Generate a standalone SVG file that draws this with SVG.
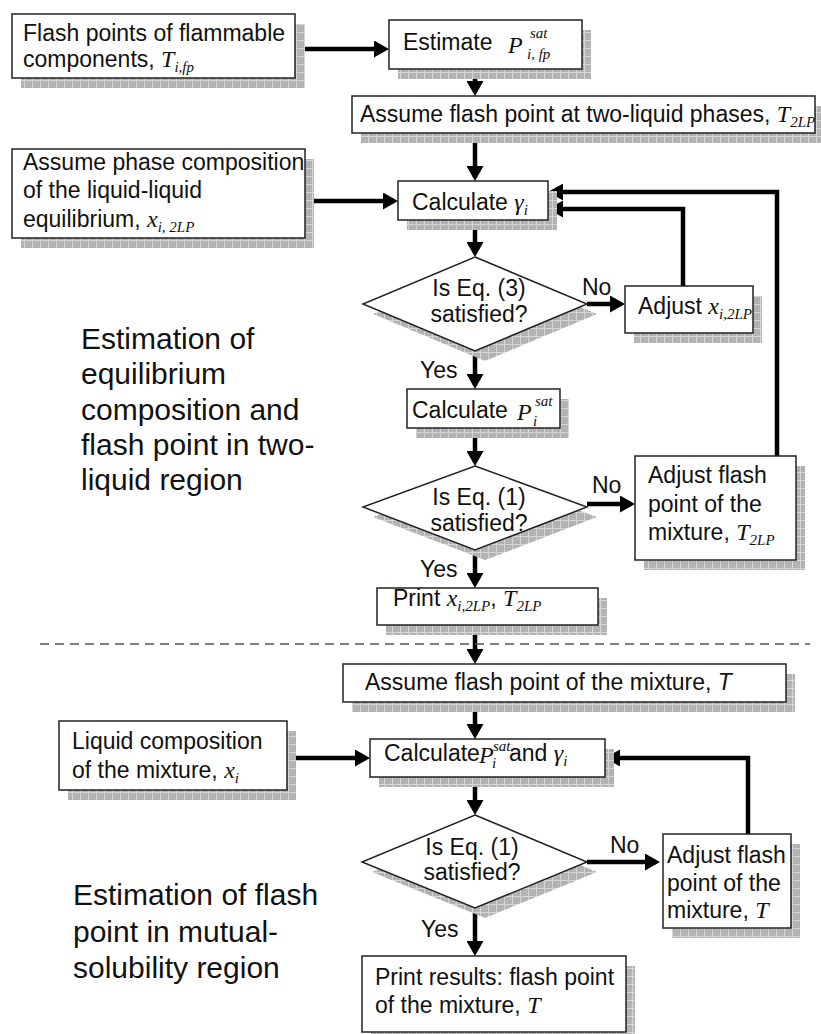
<svg xmlns="http://www.w3.org/2000/svg" width="821" height="1034" viewBox="0 0 821 1034">
<defs>
<pattern id="hatch" width="8" height="8" patternUnits="userSpaceOnUse">
<rect width="8" height="8" fill="#b3b3b3"/>
<path d="M0 0.5H8M0.5 0V8" stroke="#d6d6d6" stroke-width="1"/>
</pattern>
<marker id="ah" markerUnits="userSpaceOnUse" markerWidth="15" markerHeight="17" refX="11" refY="8.5" orient="auto">
<path d="M0,0 L15,8.5 L0,17 z" fill="#000"/>
</marker>
</defs>
<style>
.box{fill:#fff;stroke:#222;stroke-width:1.5}
.sh{fill:url(#hatch)}
.t{font-family:"Liberation Sans",Arial,sans-serif;font-size:23px;fill:#111}
.big{font-family:"Liberation Sans",Arial,sans-serif;font-size:30px;fill:#111}
.m{font-family:"Liberation Serif","Times New Roman",serif;font-style:italic;font-size:24px}
.ms{font-family:"Liberation Serif","Times New Roman",serif;font-style:italic;font-size:15px}
.c{text-anchor:middle}
.ln{fill:none;stroke:#000;stroke-width:4.5;marker-end:url(#ah)}
</style>
<rect width="821" height="1034" fill="#fff"/>

<g id="connectors">
<line class="ln" x1="295" y1="49" x2="385" y2="49"/>
<line class="ln" x1="475" y1="69" x2="475" y2="92"/>
<line class="ln" x1="475" y1="133" x2="475" y2="177"/>
<line class="ln" x1="305" y1="201" x2="394" y2="201"/>
<line class="ln" x1="475" y1="220" x2="475" y2="253"/>
<line class="ln" x1="587" y1="304" x2="621" y2="304"/>
<polyline class="ln" points="683,286 683,209 552,209"/>
<polyline class="ln" points="777,456 777,192 552,192"/>
<line class="ln" x1="475" y1="351" x2="475" y2="385"/>
<line class="ln" x1="475" y1="428" x2="475" y2="462"/>
<line class="ln" x1="587" y1="504" x2="631" y2="504"/>
<line class="ln" x1="475" y1="550" x2="475" y2="584"/>
<line class="ln" x1="475" y1="625" x2="475" y2="660"/>
<line x1="40" y1="644" x2="810" y2="644" stroke="#555" stroke-width="1.5" stroke-dasharray="9,6"/>
<line class="ln" x1="475" y1="702" x2="475" y2="735"/>
<line class="ln" x1="287" y1="758" x2="366" y2="758"/>
<polyline class="ln" points="748,834 748,758 609,758"/>
<line class="ln" x1="475" y1="777" x2="475" y2="811"/>
<line class="ln" x1="587" y1="862" x2="656" y2="862"/>
<line class="ln" x1="475" y1="908" x2="475" y2="952"/>
</g>

<g id="n1">
<rect class="sh" x="21" y="24" width="284" height="64"/>
<rect class="box" x="12" y="14" width="283" height="64"/>
<text class="t" x="23" y="41">Flash points of flammable</text>
<text class="t" x="23" y="67">components, <tspan class="m">T</tspan><tspan class="ms" dy="5">i,fp</tspan></text>
</g>

<g id="n2">
<rect class="sh" x="398" y="30" width="193" height="49"/>
<rect class="box" x="389" y="20" width="193" height="49"/>
<text class="t" x="403" y="50">Estimate <tspan class="m" x="508" dy="3" font-size="28">P</tspan><tspan class="ms" x="530" dy="-15" font-size="16">sat</tspan><tspan class="ms" x="527" dy="21" font-size="16">i, fp</tspan></text>
</g>

<g id="n3">
<rect class="sh" x="361" y="106" width="460" height="37"/>
<rect class="box" x="352" y="96" width="463" height="37"/>
<text class="t" x="360" y="122">Assume flash point at two-liquid phases, <tspan class="m">T</tspan><tspan class="ms" dy="5">2LP</tspan></text>
</g>

<g id="n4">
<rect class="sh" x="21" y="159" width="293" height="89"/>
<rect class="box" x="12" y="149" width="293" height="89"/>
<text class="t" x="23" y="170">Assume phase composition</text>
<text class="t" x="23" y="198">of the liquid-liquid</text>
<text class="t" x="23" y="227">equilibrium, <tspan class="m">x</tspan><tspan class="ms" dy="5">i, 2LP</tspan></text>
</g>

<g id="n5">
<rect class="sh" x="407" y="191" width="150" height="39"/>
<rect class="box" x="398" y="181" width="150" height="39"/>
<text class="t" x="412" y="210">Calculate <tspan class="m">γ</tspan><tspan class="ms" dy="5">i</tspan></text>
</g>

<g id="d1">
<polygon class="sh" points="485,267 597,314 485,361 373,314"/>
<polygon class="box" points="475,257 587,304 475,351 363,304"/>
<text class="t c" x="479" y="296">Is Eq. (3)</text>
<text class="t c" x="479" y="322">satisfied?</text>
</g>
<text class="t" x="582" y="295">No</text>

<g id="n6">
<rect class="sh" x="634" y="296" width="128" height="47"/>
<rect class="box" x="625" y="286" width="128" height="47"/>
<text class="t" x="638" y="314">Adjust <tspan class="m">x</tspan><tspan class="ms" dy="5">i,2LP</tspan></text>
</g>

<text class="t" x="420" y="378">Yes</text>

<g id="n7">
<rect class="sh" x="416" y="399" width="153" height="39"/>
<rect class="box" x="407" y="389" width="153" height="39"/>
<text class="t" x="412" y="418">Calculate <tspan class="m" x="517" dy="2" font-size="26">P</tspan><tspan class="ms" x="535" dy="-14">sat</tspan><tspan class="ms" x="533" dy="20">i</tspan></text>
</g>

<g id="d2">
<polygon class="sh" points="485,476 597,517 485,560 373,517"/>
<polygon class="box" points="475,466 587,507 475,550 363,507"/>
<text class="t c" x="479" y="505">Is Eq. (1)</text>
<text class="t c" x="479" y="531">satisfied?</text>
</g>
<text class="t" x="592" y="493">No</text>

<g id="n8">
<rect class="sh" x="644" y="466" width="161" height="104"/>
<rect class="box" x="635" y="456" width="161" height="104"/>
<text class="t" x="648" y="483">Adjust flash</text>
<text class="t" x="648" y="512">point of the</text>
<text class="t" x="648" y="540">mixture, <tspan class="m">T</tspan><tspan class="ms" dy="5">2LP</tspan></text>
</g>

<text class="t" x="420" y="577">Yes</text>

<g id="n9">
<rect class="sh" x="386" y="598" width="221" height="37"/>
<rect class="box" x="377" y="588" width="221" height="37"/>
<text class="t" x="393" y="606" font-size="21">Print <tspan class="m" font-size="22">x</tspan><tspan class="ms" dy="5">i,2LP</tspan><tspan dy="-5">, </tspan><tspan class="m" font-size="22">T</tspan><tspan class="ms" dy="5">2LP</tspan></text>
</g>

<g id="n10">
<rect class="sh" x="352" y="674" width="443" height="38"/>
<rect class="box" x="343" y="664" width="443" height="38"/>
<text class="t" x="365" y="690">Assume flash point of the mixture, <tspan font-style="italic">T</tspan></text>
</g>

<g id="n11">
<rect class="sh" x="68" y="731" width="228" height="69"/>
<rect class="box" x="59" y="721" width="228" height="69"/>
<text class="t" x="72" y="749">Liquid composition</text>
<text class="t" x="72" y="778">of the mixture, <tspan class="m">x</tspan><tspan class="ms" dy="5">i</tspan></text>
</g>

<g id="n12">
<rect class="sh" x="379" y="749" width="235" height="38"/>
<rect class="box" x="370" y="739" width="235" height="38"/>
<text class="t" x="384" y="761" font-size="20.5">Calculate<tspan class="m" x="479" dy="2" font-size="20">P</tspan><tspan class="ms" x="493" dy="-12" font-size="12">sat</tspan><tspan class="ms" x="492" dy="17" font-size="12">i</tspan><tspan x="509" dy="-7">and </tspan><tspan class="m" font-size="23">γ</tspan><tspan class="ms" dy="5">i</tspan></text>
</g>

<g id="d3">
<polygon class="sh" points="485,825 597,872 485,918 372,872"/>
<polygon class="box" points="475,815 587,862 475,908 362,862"/>
<text class="t c" x="472" y="855">Is Eq. (1)</text>
<text class="t c" x="472" y="880">satisfied?</text>
</g>
<text class="t" x="610" y="853">No</text>

<g id="n13">
<rect class="sh" x="672" y="844" width="128" height="94"/>
<rect class="box" x="663" y="834" width="128" height="94"/>
<text class="t" x="667" y="863">Adjust flash</text>
<text class="t" x="667" y="891">point of the</text>
<text class="t" x="667" y="918">mixture, <tspan class="m">T</tspan></text>
</g>

<text class="t" x="421" y="937">Yes</text>

<g id="n14">
<rect class="sh" x="371" y="966" width="264" height="76"/>
<rect class="box" x="362" y="956" width="264" height="76"/>
<text class="t" x="375" y="985">Print results: flash point</text>
<text class="t" x="375" y="1013">of the mixture, <tspan class="m">T</tspan></text>
</g>

<g id="label-top">
<text class="big" x="81" y="349">Estimation of</text>
<text class="big" x="81" y="384">equilibrium</text>
<text class="big" x="81" y="420">composition and</text>
<text class="big" x="81" y="455">flash point in two-</text>
<text class="big" x="81" y="490">liquid region</text>
</g>
<g id="label-bottom">
<text class="big" x="73" y="905">Estimation of flash</text>
<text class="big" x="73" y="942">point in mutual-</text>
<text class="big" x="73" y="978">solubility region</text>
</g>
</svg>
